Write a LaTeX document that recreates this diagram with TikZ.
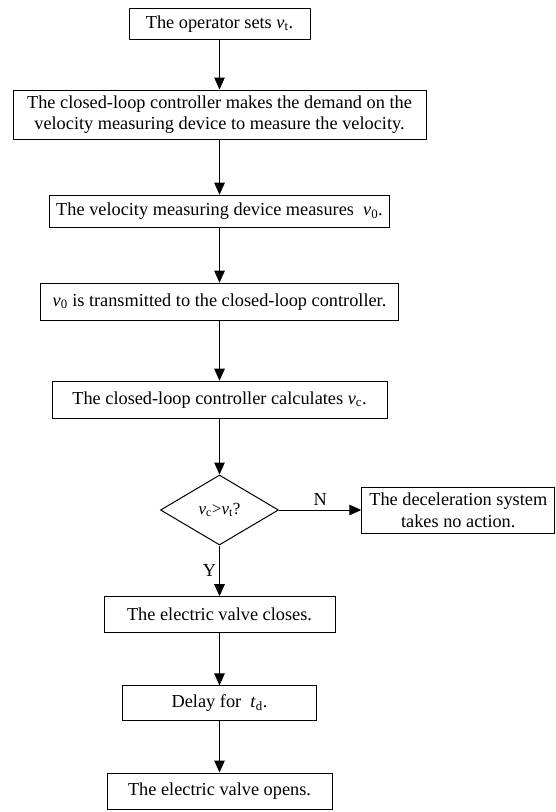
\documentclass[tikz,border=0pt]{standalone}
\usepackage{fontspec}
\setmainfont{Liberation Serif}
\usepackage{tikz}
\usetikzlibrary{arrows.meta, positioning, shapes.geometric}

\tikzset{
  kasten/.style={draw, line width=1pt, align=center, inner sep=2pt,
    font=\fontsize{18.3}{21.7}\selectfont},
  raute/.style={draw, diamond, line width=1pt, inner sep=0pt,
    minimum width=118pt, minimum height=70pt, font=\fontsize{17}{20}\selectfont},
  pfeil/.style={line width=1pt, -{Triangle[length=12pt,width=10.5pt]}},
  marke/.style={font=\fontsize{18.3}{21.7}\selectfont}
}

\newcommand{\gr}[1]{\textit{v}\textsubscript{#1}}

\begin{document}
\begin{tikzpicture}[x=1pt, y=1pt]

\useasboundingbox (0,0) rectangle (556,-812);

% Kaesten
\node[kasten, minimum width=181pt, minimum height=31pt] (s1) at (219.5,-23.8) {The operator sets \gr{t}.};
\node[kasten, minimum width=413pt, minimum height=49pt] (s2) at (219.5,-114.5)
  {The closed-loop controller makes the demand on the\\ velocity measuring device to measure the velocity.};
\node[kasten, minimum width=340pt, minimum height=32pt] (s3) at (219.5,-211.2) {The velocity measuring device measures~ \gr{0}.};
\node[kasten, minimum width=358pt, minimum height=37pt] (s4) at (219.5,-301.7) {\gr{0} is transmitted to the closed-loop controller.};
\node[kasten, minimum width=335pt, minimum height=37pt] (s5) at (219.5,-399.7) {The closed-loop controller calculates \gr{c}.};

% Abfrage
\node[raute] (d1) at (219.5,-510) {\gr{c}>\gr{t}?};
\node[kasten, minimum width=193pt, minimum height=46pt] (n1) at (458.3,-510)
  {The deceleration system\\ takes no action.};

\node[kasten, minimum width=231pt, minimum height=36pt] (s6) at (219.5,-614.7) {The electric valve closes.};
\node[kasten, minimum width=194pt, minimum height=35pt] (s7) at (219.5,-703.4) {Delay for~ \textit{t}\textsubscript{d}.};
\node[kasten, minimum width=225pt, minimum height=36pt] (s8) at (219.5,-791) {The electric valve opens.};

% Verbindungen
\draw[pfeil] (s1) -- (s2);
\draw[pfeil] (s2) -- (s3);
\draw[pfeil] (s3) -- (s4);
\draw[pfeil] (s4) -- (s5);
\draw[pfeil] (s5) -- (d1);
\draw[pfeil] (d1.east) -- node[marke, above, inner sep=4pt] {N} (n1.west);
\draw[pfeil] (d1.south) -- node[marke, left, inner sep=3pt] {Y} (s6);
\draw[pfeil] (s6) -- (s7);
\draw[pfeil] (s7) -- (s8);

\end{tikzpicture}
\end{document}
